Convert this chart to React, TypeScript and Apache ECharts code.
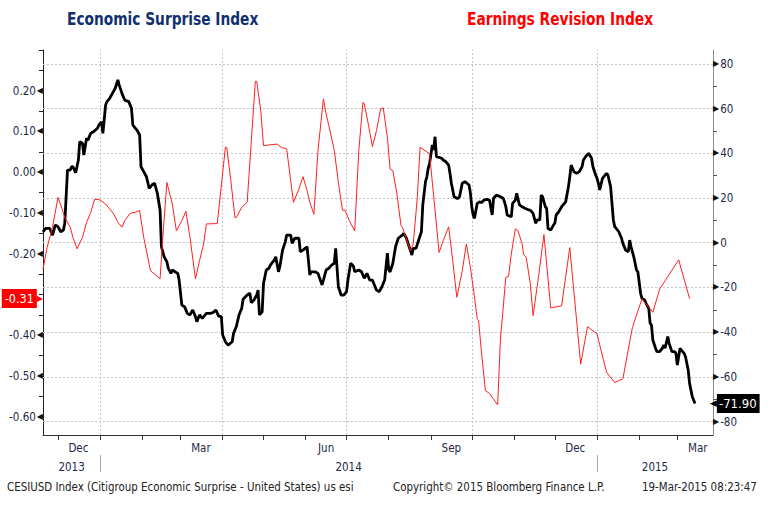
import React, { useEffect, useRef } from "react";
import * as echarts from "echarts";

const FONT = '"Liberation Sans Narrow", "DejaVu Sans Condensed", "Liberation Sans", Arial, sans-serif';
const GLYPH_FONT = '"DejaVu Sans", sans-serif';

const titleLeft = "Economic Surprise Index";
const titleRight = "Earnings Revision Index";
const footerSource = "CESIUSD Index (Citigroup Economic Surprise - United States) us esi";
const footerCopyright = "Copyright\u00A9 2015 Bloomberg Finance L.P.";
const footerStamp = "19-Mar-2015 08:23:47";

const xStart = "2013-11-20T00:00:00Z";
const xEnd = "2015-03-27T05:00:00Z";

const monthNames = ["Jan", "Feb", "Mar", "Apr", "May", "Jun", "Jul", "Aug", "Sep", "Oct", "Nov", "Dec"];
const monthTickDates = [
  "2013-12-01", "2014-01-01", "2014-02-01", "2014-03-01", "2014-04-01", "2014-05-01", "2014-06-01",
  "2014-07-01", "2014-08-01", "2014-09-01", "2014-10-01", "2014-11-01", "2014-12-01", "2015-01-01",
  "2015-02-01", "2015-03-01",
];
const monthLabelMonths = ["2013-12", "2014-03", "2014-06", "2014-09", "2014-12", "2015-03"];
const quarterGridDates = ["2014-01-01", "2014-04-01", "2014-07-01", "2014-10-01", "2015-01-01"];
const yearStartDates = ["2014-01-01", "2015-01-01"];

// -0.30 sits under the last-value tag, as in the reference
const leftLabels = [0.2, 0.1, 0.0, -0.1, -0.2, -0.4, -0.5, -0.6];
const leftTicks = [0.3, 0.25, 0.2, 0.15, 0.1, 0.05, 0, -0.05, -0.1, -0.15, -0.2, -0.25, -0.3, -0.35, -0.4, -0.45, -0.5, -0.55, -0.6];
const rightLabels = [80, 60, 40, 20, 0, -20, -40, -60, -80];
const rightTicks = [80, 70, 60, 50, 40, 30, 20, 10, 0, -10, -20, -30, -40, -50, -60, -70, -80];

// Citigroup Economic Surprise Index (right axis)
const cesi: [string, number][] = [
  ["2013-11-20", 4.9], ["2013-11-22", 6.4], ["2013-11-25", 6.4], ["2013-11-27", 3.4], ["2013-11-29", 7.9],
  ["2013-12-01", 7.2], ["2013-12-03", 4.9], ["2013-12-05", 5.7], ["2013-12-06", 8.7], ["2013-12-08", 32.5],
  ["2013-12-10", 32.5], ["2013-12-11", 34.0], ["2013-12-12", 34.0], ["2013-12-14", 31.3], ["2013-12-16", 37.0],
  ["2013-12-17", 45.2], ["2013-12-19", 44.5], ["2013-12-20", 39.2], ["2013-12-22", 46.7], ["2013-12-23", 45.9],
  ["2013-12-25", 48.9], ["2013-12-27", 49.6], ["2013-12-30", 51.2], ["2013-12-31", 52.6], ["2014-01-02", 54.1],
  ["2014-01-03", 48.9], ["2014-01-05", 61.6], ["2014-01-06", 63.1], ["2014-01-08", 64.6], ["2014-01-10", 66.8],
  ["2014-01-12", 69.0], ["2014-01-14", 72.8], ["2014-01-15", 70.5], ["2014-01-17", 66.8], ["2014-01-19", 63.8],
  ["2014-01-22", 63.1], ["2014-01-24", 60.1], ["2014-01-25", 52.6], ["2014-01-28", 50.4], ["2014-01-30", 48.2],
  ["2014-01-31", 34.0], ["2014-02-02", 31.8], ["2014-02-04", 29.5], ["2014-02-06", 24.3], ["2014-02-08", 25.8],
  ["2014-02-10", 26.6], ["2014-02-12", 22.1], ["2014-02-14", 14.6], ["2014-02-15", -1.8], ["2014-02-17", -6.3],
  ["2014-02-19", -8.5], ["2014-02-20", -11.4], ["2014-02-22", -13.7], ["2014-02-23", -12.2], ["2014-02-25", -13.0],
  ["2014-02-27", -13.7], ["2014-02-28", -16.7], ["2014-03-02", -27.9], ["2014-03-04", -28.6], ["2014-03-06", -31.6],
  ["2014-03-08", -32.3], ["2014-03-10", -30.1], ["2014-03-12", -33.1], ["2014-03-13", -35.3], ["2014-03-15", -32.3],
  ["2014-03-17", -33.8], ["2014-03-18", -33.1], ["2014-03-20", -31.6], ["2014-03-23", -31.6], ["2014-03-25", -31.2],
  ["2014-03-27", -30.1], ["2014-03-29", -32.8], ["2014-03-31", -33.1], ["2014-04-01", -41.3], ["2014-04-03", -44.3],
  ["2014-04-05", -45.8], ["2014-04-08", -44.3], ["2014-04-09", -40.5], ["2014-04-11", -37.6], ["2014-04-13", -32.3],
  ["2014-04-15", -29.3], ["2014-04-16", -25.3], ["2014-04-19", -23.4], ["2014-04-21", -22.6], ["2014-04-22", -26.8],
  ["2014-04-24", -25.6], ["2014-04-26", -23.4], ["2014-04-27", -21.2], ["2014-04-28", -32.3], ["2014-04-30", -30.9],
  ["2014-05-01", -18.2], ["2014-05-03", -12.2], ["2014-05-05", -11.4], ["2014-05-06", -10.0], ["2014-05-07", -9.2],
  ["2014-05-09", -7.7], ["2014-05-10", -6.3], ["2014-05-12", -13.0], ["2014-05-13", -10.7], ["2014-05-15", -3.3],
  ["2014-05-17", 0.4], ["2014-05-18", 3.4], ["2014-05-21", 3.4], ["2014-05-22", -0.3], ["2014-05-24", 2.0],
  ["2014-05-27", 2.0], ["2014-05-28", -4.0], ["2014-05-30", -3.3], ["2014-06-02", -1.8], ["2014-06-04", -14.4],
  ["2014-06-05", -13.0], ["2014-06-08", -13.0], ["2014-06-10", -13.7], ["2014-06-13", -18.9], ["2014-06-14", -16.7],
  ["2014-06-16", -12.2], ["2014-06-18", -11.4], ["2014-06-20", -10.0], ["2014-06-22", -9.2], ["2014-06-23", -2.5],
  ["2014-06-25", -19.7], ["2014-06-27", -23.4], ["2014-06-29", -23.4], ["2014-07-01", -21.9], ["2014-07-02", -16.7],
  ["2014-07-04", -9.2], ["2014-07-06", -10.4], ["2014-07-07", -13.0], ["2014-07-10", -12.2], ["2014-07-12", -13.0],
  ["2014-07-14", -15.9], ["2014-07-16", -13.7], ["2014-07-18", -16.7], ["2014-07-20", -16.7], ["2014-07-21", -18.2],
  ["2014-07-23", -21.2], ["2014-07-25", -21.9], ["2014-07-27", -19.7], ["2014-07-29", -16.7], ["2014-07-31", -4.7],
  ["2014-08-01", -12.2], ["2014-08-02", -13.0], ["2014-08-04", -9.2], ["2014-08-06", -1.8], ["2014-08-08", 2.0],
  ["2014-08-11", 3.4], ["2014-08-12", 4.2], ["2014-08-14", 2.0], ["2014-08-16", -1.8], ["2014-08-18", -5.5],
  ["2014-08-19", -2.5], ["2014-08-21", -2.5], ["2014-08-23", 1.2], ["2014-08-25", 4.9], ["2014-08-26", 16.9],
  ["2014-08-28", 27.3], ["2014-08-29", 29.5], ["2014-08-30", 33.3], ["2014-08-31", 35.5], ["2014-09-02", 43.7],
  ["2014-09-03", 41.5], ["2014-09-04", 47.4], ["2014-09-05", 38.5], ["2014-09-07", 38.2], ["2014-09-09", 37.7],
  ["2014-09-10", 37.0], ["2014-09-12", 36.2], ["2014-09-14", 34.7], ["2014-09-15", 31.0], ["2014-09-16", 26.6],
  ["2014-09-18", 20.6], ["2014-09-20", 19.9], ["2014-09-21", 19.9], ["2014-09-22", 20.6], ["2014-09-24", 26.6],
  ["2014-09-26", 27.3], ["2014-09-29", 25.8], ["2014-09-30", 22.1], ["2014-10-01", 16.1], ["2014-10-02", 12.4],
  ["2014-10-03", 10.9], ["2014-10-05", 17.6], ["2014-10-07", 18.3], ["2014-10-08", 17.9], ["2014-10-10", 19.1],
  ["2014-10-12", 19.4], ["2014-10-14", 19.1], ["2014-10-16", 12.4], ["2014-10-17", 19.9], ["2014-10-19", 21.3],
  ["2014-10-22", 20.6], ["2014-10-24", 19.9], ["2014-10-25", 18.3], ["2014-10-26", 16.1], ["2014-10-27", 12.4],
  ["2014-10-30", 11.6], ["2014-10-31", 17.6], ["2014-11-02", 19.1], ["2014-11-03", 22.1], ["2014-11-05", 16.9],
  ["2014-11-07", 16.1], ["2014-11-09", 15.4], ["2014-11-12", 14.6], ["2014-11-13", 14.6], ["2014-11-15", 13.1],
  ["2014-11-17", 8.7], ["2014-11-18", 10.2], ["2014-11-20", 10.2], ["2014-11-21", 21.3], ["2014-11-22", 20.6],
  ["2014-11-24", 16.1], ["2014-11-25", 15.4], ["2014-11-26", 6.4], ["2014-11-28", 5.7], ["2014-11-30", 7.9],
  ["2014-12-01", 8.7], ["2014-12-02", 12.4], ["2014-12-04", 13.9], ["2014-12-06", 16.1], ["2014-12-08", 17.6],
  ["2014-12-09", 18.3], ["2014-12-11", 25.0], ["2014-12-12", 29.5], ["2014-12-13", 34.7], ["2014-12-15", 31.8],
  ["2014-12-17", 31.0], ["2014-12-19", 31.8], ["2014-12-21", 34.0], ["2014-12-22", 37.0], ["2014-12-24", 38.8],
  ["2014-12-26", 40.0], ["2014-12-28", 37.7], ["2014-12-29", 34.0], ["2014-12-31", 30.3], ["2015-01-01", 28.8],
  ["2015-01-02", 26.6], ["2015-01-03", 23.6], ["2015-01-05", 28.8], ["2015-01-06", 29.5], ["2015-01-07", 30.3],
  ["2015-01-08", 31.0], ["2015-01-09", 30.3], ["2015-01-11", 25.0], ["2015-01-12", 17.6], ["2015-01-13", 10.2],
  ["2015-01-14", 7.2], ["2015-01-16", 5.7], ["2015-01-17", 4.9], ["2015-01-19", 2.0], ["2015-01-20", -0.3],
  ["2015-01-22", -3.3], ["2015-01-24", -4.0], ["2015-01-25", 1.2], ["2015-01-26", -1.8], ["2015-01-28", -6.3],
  ["2015-01-29", -9.2], ["2015-01-30", -12.2], ["2015-01-31", -13.0], ["2015-02-02", -22.6], ["2015-02-03", -24.9],
  ["2015-02-05", -25.6], ["2015-02-06", -27.1], ["2015-02-08", -29.3], ["2015-02-09", -36.0], ["2015-02-10", -36.8],
  ["2015-02-11", -43.5], ["2015-02-13", -47.2], ["2015-02-14", -48.7], ["2015-02-16", -48.7], ["2015-02-18", -47.2],
  ["2015-02-19", -45.8], ["2015-02-20", -47.2], ["2015-02-22", -42.0], ["2015-02-23", -45.0], ["2015-02-25", -48.7],
  ["2015-02-27", -48.7], ["2015-02-28", -49.5], ["2015-03-01", -54.7], ["2015-03-03", -47.2], ["2015-03-04", -48.0],
  ["2015-03-06", -49.5], ["2015-03-07", -51.0], ["2015-03-09", -56.9], ["2015-03-10", -62.9], ["2015-03-12", -68.9],
  ["2015-03-14", -71.9],
];

// Earnings Revision Index (left axis)
const eri: [string, number][] = [
  ["2013-11-20", -0.238], ["2013-11-23", -0.185], ["2013-11-27", -0.135], ["2013-12-01", -0.062], ["2013-12-04", -0.09],
  ["2013-12-06", -0.111], ["2013-12-10", -0.135], ["2013-12-12", -0.16], ["2013-12-15", -0.188], ["2013-12-19", -0.16],
  ["2013-12-22", -0.123], ["2013-12-25", -0.099], ["2013-12-28", -0.066], ["2014-01-01", -0.068], ["2014-01-05", -0.078],
  ["2014-01-08", -0.09], ["2014-01-11", -0.103], ["2014-01-14", -0.123], ["2014-01-17", -0.135], ["2014-01-19", -0.119],
  ["2014-01-23", -0.101], ["2014-01-27", -0.098], ["2014-01-30", -0.094], ["2014-02-02", -0.16], ["2014-02-07", -0.242],
  ["2014-02-10", -0.25], ["2014-02-14", -0.262], ["2014-02-16", -0.16], ["2014-02-19", -0.025], ["2014-02-23", -0.078],
  ["2014-02-26", -0.144], ["2014-03-02", -0.119], ["2014-03-05", -0.096], ["2014-03-08", -0.16], ["2014-03-12", -0.262],
  ["2014-03-15", -0.217], ["2014-03-18", -0.176], ["2014-03-20", -0.127], ["2014-03-28", -0.126], ["2014-04-03", 0.061],
  ["2014-04-04", 0.061], ["2014-04-07", -0.021], ["2014-04-10", -0.111], ["2014-04-11", -0.111], ["2014-04-15", -0.086],
  ["2014-04-19", -0.074], ["2014-04-25", 0.223], ["2014-04-26", 0.223], ["2014-04-29", 0.151], ["2014-05-01", 0.065],
  ["2014-05-05", 0.067], ["2014-05-11", 0.069], ["2014-05-14", 0.061], ["2014-05-18", 0.057], ["2014-05-21", -0.021],
  ["2014-05-23", -0.074], ["2014-05-27", -0.041], ["2014-05-30", -0.011], ["2014-06-02", -0.045], ["2014-06-04", -0.074],
  ["2014-06-07", -0.103], ["2014-06-10", 0.053], ["2014-06-14", 0.18], ["2014-06-16", 0.143], ["2014-06-18", 0.114],
  ["2014-06-22", 0.053], ["2014-06-25", -0.025], ["2014-06-28", -0.093], ["2014-06-30", -0.094], ["2014-07-03", -0.119],
  ["2014-07-07", -0.144], ["2014-07-10", 0.053], ["2014-07-13", 0.171], ["2014-07-14", 0.169], ["2014-07-17", 0.118],
  ["2014-07-20", 0.063], ["2014-07-23", 0.102], ["2014-07-26", 0.155], ["2014-07-28", 0.158], ["2014-07-31", 0.085],
  ["2014-08-02", 0.008], ["2014-08-04", 0.004], ["2014-08-07", -0.053], ["2014-08-10", -0.131], ["2014-08-11", -0.135],
  ["2014-08-14", -0.164], ["2014-08-17", -0.193], ["2014-08-19", -0.176], ["2014-08-22", -0.062], ["2014-08-24", 0.061],
  ["2014-08-26", 0.057], ["2014-08-31", 0.045], ["2014-09-07", -0.197], ["2014-09-10", -0.168], ["2014-09-14", -0.134],
  ["2014-09-17", -0.217], ["2014-09-20", -0.307], ["2014-09-24", -0.242], ["2014-09-27", -0.176], ["2014-09-30", -0.234],
  ["2014-10-03", -0.307], ["2014-10-05", -0.36], ["2014-10-06", -0.363], ["2014-10-08", -0.438], ["2014-10-11", -0.536],
  ["2014-10-14", -0.543], ["2014-10-17", -0.557], ["2014-10-20", -0.571], ["2014-10-22", -0.413], ["2014-10-26", -0.258],
  ["2014-10-28", -0.256], ["2014-10-30", -0.201], ["2014-11-02", -0.139], ["2014-11-04", -0.144], ["2014-11-07", -0.176],
  ["2014-11-08", -0.201], ["2014-11-10", -0.209], ["2014-11-13", -0.274], ["2014-11-15", -0.352], ["2014-11-19", -0.258],
  ["2014-11-23", -0.153], ["2014-11-25", -0.225], ["2014-11-28", -0.333], ["2014-12-06", -0.328], ["2014-12-12", -0.185],
  ["2014-12-20", -0.471], ["2014-12-25", -0.379], ["2015-01-01", -0.397], ["2015-01-08", -0.491], ["2015-01-14", -0.516],
  ["2015-01-20", -0.507], ["2015-01-27", -0.381], ["2015-02-03", -0.311], ["2015-02-11", -0.344], ["2015-02-16", -0.287],
  ["2015-03-02", -0.215], ["2015-03-10", -0.31],
];

const ts = (s: string) => Date.parse(s.length === 10 ? s + "T00:00:00Z" : s.length === 7 ? s + "-16T00:00:00Z" : s);

export default function App() {
  const ref = useRef<HTMLDivElement>(null);

  useEffect(() => {
    document.body.style.margin = "0";
    if (!ref.current) return;
    const chart = echarts.init(ref.current, null, { renderer: "svg" });

    const xMin = ts(xStart);
    const xMax = ts(xEnd);
    const yearBounds = [xMin, ...yearStartDates.map(ts), xMax];
    const yearMids = yearBounds.slice(0, -1).map((b, i) => (b + yearBounds[i + 1]) / 2);

    const labelColor = "#1d2a46";
    const axisFontSize = 11.5;
    const lastEri = eri[eri.length - 1][1];
    const lastCesi = cesi[cesi.length - 1][1];
    const gridLine = { color: "#c4c4c4", width: 1, type: [2, 2] as number[] };
    const hidden = { color: "rgba(0,0,0,0)", width: 1 };
    const off = { show: false };

    const option: any = {
      animation: false,
      backgroundColor: "#ffffff",
      grid: [
        { left: 43, right: 65, top: 50, bottom: 71, containLabel: false },
        // strip holding the year separators under the month labels
        { left: 43, right: 65, top: 455, height: 17, containLabel: false },
      ],
      xAxis: [
        {
          type: "value",
          gridIndex: 0,
          min: xMin,
          max: xMax,
          position: "bottom",
          axisLine: { show: true, onZero: false, lineStyle: { color: "#333333", width: 1 } },
          axisTick: { show: true, customValues: monthTickDates.map(ts), length: 5, lineStyle: { color: "#333333" } },
          axisLabel: {
            show: true,
            customValues: monthLabelMonths.map(ts),
            formatter: (v: number) => monthNames[new Date(v).getUTCMonth()],
            margin: 7,
            color: labelColor,
            fontFamily: FONT,
            fontSize: axisFontSize,
          },
          splitLine: off,
        },
        {
          type: "value",
          gridIndex: 0,
          min: xMin,
          max: xMax,
          position: "bottom",
          offset: 20,
          axisLine: off,
          axisTick: off,
          axisLabel: {
            show: true,
            customValues: yearMids,
            formatter: (v: number) => String(new Date(v).getUTCFullYear()),
            margin: 6,
            color: labelColor,
            fontFamily: FONT,
            fontSize: axisFontSize,
          },
          splitLine: off,
        },
        {
          type: "value",
          gridIndex: 1,
          min: xMin,
          max: xMax,
          show: false,
        },
      ],
      yAxis: [
        {
          type: "value",
          gridIndex: 0,
          position: "left",
          min: -0.645,
          max: 0.3,
          axisLine: { show: true, onZero: false, lineStyle: { color: "#222222", width: 1 } },
          axisTick: { show: true, customValues: leftTicks, length: 4, lineStyle: { color: "#222222" } },
          axisLabel: {
            show: true,
            customValues: leftLabels,
            margin: 0,
            formatter: (v: number) => `{v|${v.toFixed(2)}}{t|\u25C0}`,
            rich: {
              v: { color: labelColor, fontFamily: FONT, fontSize: axisFontSize },
              t: { color: "#111111", fontFamily: GLYPH_FONT, fontSize: 8, padding: [0, 0, 1, 1] },
            },
          },
          splitLine: off,
        },
        {
          type: "value",
          gridIndex: 0,
          position: "right",
          min: -86,
          max: 86.2,
          axisLine: { show: true, onZero: false, lineStyle: { color: "#8a8a8a", width: 1 } },
          axisTick: { show: true, customValues: rightTicks, length: 4, lineStyle: { color: "#555555" } },
          axisLabel: {
            show: true,
            customValues: rightLabels,
            margin: 0,
            formatter: (v: number) => `{t|\u25B6}{v|${v}}`,
            rich: {
              v: { color: labelColor, fontFamily: FONT, fontSize: axisFontSize },
              t: { color: "#111111", fontFamily: GLYPH_FONT, fontSize: 8, padding: [0, 1, 1, 0] },
            },
          },
          splitLine: off,
        },
        {
          type: "value",
          gridIndex: 1,
          min: 0,
          max: 1,
          show: false,
        },
      ],
      series: [
        {
          type: "line",
          name: "grid",
          xAxisIndex: 0,
          yAxisIndex: 1,
          data: [],
          silent: true,
          markLine: {
            silent: true,
            z: 1,
            symbol: "none",
            animation: false,
            label: { show: false },
            lineStyle: gridLine,
            data: [
              ...rightLabels.map((v) => ({ yAxis: v })),
              ...quarterGridDates.map((d) => ({ xAxis: ts(d) })),
            ],
          },
        },
        {
          type: "line",
          name: "years",
          xAxisIndex: 2,
          yAxisIndex: 2,
          data: [],
          silent: true,
          markLine: {
            silent: true,
            symbol: "none",
            animation: false,
            label: { show: false },
            lineStyle: { color: "#a8a8a8", width: 1, type: "solid" },
            data: yearStartDates.map((d) => ({ xAxis: ts(d) })),
          },
        },
        {
          type: "line",
          name: titleLeft,
          xAxisIndex: 0,
          yAxisIndex: 1,
          data: cesi.map(([d, v]) => [ts(d), v]),
          symbol: "none",
          showSymbol: false,
          lineStyle: { color: "#000000", width: 2.8 },
          z: 3,
          markLine: {
            silent: true,
            symbol: "none",
            animation: false,
            lineStyle: hidden,
            label: {
              show: true,
              position: "end",
              distance: -3,
              formatter: `{a|\u25C0}{b|${lastCesi.toFixed(2)}}`,
              rich: {
                a: { color: "#000000", fontFamily: GLYPH_FONT, fontSize: 9 },
                b: { color: "#ffffff", backgroundColor: "#000000", fontFamily: FONT, fontSize: 13, padding: [3, 3, 3, 2] },
              },
            },
            data: [{ yAxis: lastCesi }],
          },
        },
        {
          type: "line",
          name: titleRight,
          xAxisIndex: 0,
          yAxisIndex: 0,
          data: eri.map(([d, v]) => [ts(d), v]),
          symbol: "none",
          showSymbol: false,
          lineStyle: { color: "#ff2020", width: 1 },
          z: 4,
          markLine: {
            silent: true,
            symbol: "none",
            animation: false,
            lineStyle: hidden,
            label: {
              show: true,
              position: "start",
              distance: 0,
              formatter: `{b|${lastEri.toFixed(2)}}{a|\u25B6}`,
              rich: {
                a: { color: "#ff0000", fontFamily: GLYPH_FONT, fontSize: 8 },
                b: { color: "#ffffff", backgroundColor: "#ff0000", fontFamily: FONT, fontSize: 12.5, padding: [3, 3, 3, 3] },
              },
            },
            data: [{ yAxis: lastEri }],
          },
        },
      ],
      graphic: [
        {
          type: "text",
          x: 67,
          y: 10,
          scaleX: 0.85,
          style: { text: titleLeft, fill: "#112f6e", font: `bold 18px ${FONT}` },
        },
        {
          type: "text",
          x: 467,
          y: 10,
          scaleX: 0.85,
          style: { text: titleRight, fill: "#ff0000", font: `bold 18px ${FONT}` },
        },
        {
          type: "text",
          x: 7,
          y: 480,
          scaleX: 0.88,
          style: { text: footerSource, fill: "#222222", font: `13px ${FONT}` },
        },
        {
          type: "text",
          x: 393,
          y: 480,
          scaleX: 0.88,
          style: { text: footerCopyright, fill: "#222222", font: `13px ${FONT}` },
        },
        {
          type: "text",
          x: 642,
          y: 480,
          scaleX: 0.88,
          style: { text: footerStamp, fill: "#222222", font: `13px ${FONT}` },
        },
      ],
    };

    chart.setOption(option);
    return () => chart.dispose();
  }, []);

  return <div ref={ref} style={{ width: 778, height: 506 }} />;
}
